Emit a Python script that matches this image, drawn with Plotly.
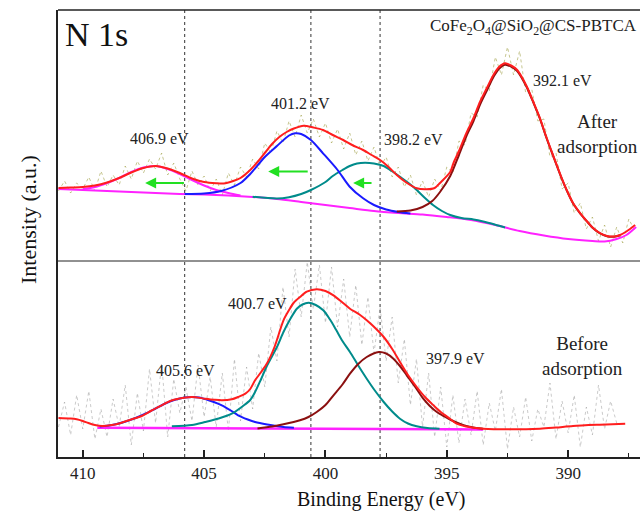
import plotly.graph_objects as go

FONT = "Liberation Serif, Times New Roman, serif"

# ---------------- Upper panel (after adsorption) ----------------
raw_u_E = [411.0 - 0.25 * i for i in range(96)]
raw_u = [70, 80, 68, 78, 72, 84, 70, 90, 74, 86, 76, 95, 82, 100, 88, 102, 92, 108, 86, 98,
         82, 70, 90, 76, 85, 70, 82, 66, 88, 76, 94, 84, 102, 92, 118, 108, 130, 118, 140, 124,
         146, 128, 142, 124, 138, 118, 132, 112, 128, 106, 120, 100, 114, 94, 104, 84, 94, 74, 86, 66,
         80, 64, 82, 70, 94, 88, 120, 116, 148, 144, 176, 170, 204, 186, 214, 186, 210, 168, 172, 140,
         142, 104, 108, 72, 78, 48, 58, 32, 44, 20, 36, 14, 34, 18, 42, 30]

base_u_E = [411, 410, 409, 408, 407, 406, 405, 404, 403, 402, 401, 400, 399, 398, 397, 396, 395,
            394, 393, 392, 391, 390, 389, 388.5, 388, 387.6, 387.2]
base_u = [72, 71, 70, 69, 68, 67, 66.5, 65.5, 64, 62, 59, 56, 53, 50, 48, 46.5, 44,
          41, 36, 30, 25.5, 22, 20, 19.5, 22, 26, 34]

c1_u_E = [410, 409.5, 409, 408.5, 408, 407.5, 407, 406.5, 406, 405.5, 405, 404.5, 404, 403.5]
c1_u = [72, 74, 78, 83, 89, 93.5, 95, 92, 87, 81, 75.5, 71, 68, 65.5]

c2_u_E = [405.8, 405, 404.3, 403.5, 403.1, 402.5, 402, 401.5, 401.25, 401, 400.6, 400.1, 399.5,
          399, 398.45, 398, 397.5, 397, 396.5]
c2_u = [67, 67.5, 70, 78, 87, 104, 115, 125.5, 127.7, 127, 121, 107.7, 91, 74.3, 62.7, 56, 51.5, 49, 47.5]

c3_u_E = [403, 402, 401.5, 401, 400.6, 400, 399.7, 399.3, 399, 398.7, 398.37, 398, 397.6, 397.3,
          396.93, 396.5, 396.24, 395.9, 395.57, 395.2, 394.86, 394.4, 393.9, 393.5, 393.0, 392.6]
c3_u = [64.3, 62.5, 63.8, 67, 71, 79, 85, 91, 95, 97.5, 98.3, 97.5, 95, 90.5,
        84.3, 76.5, 71, 63, 56, 50, 46, 43, 41.5, 39.5, 36.3, 33.5]

c4_u_E = [397.06, 396.5, 396.0, 395.6, 395.28, 394.86, 394.5, 394.2, 393.9, 393.63, 393.35, 393.08,
          392.85, 392.6, 392.35, 392.1, 391.9, 391.7, 391.45, 391.16, 390.9, 390.6, 390.3, 390.06,
          389.8, 389.5, 389.2, 388.96, 388.7, 388.4, 388.1, 387.86]
c4_u = [49.5, 50.5, 54, 60, 69, 85, 106, 124.5, 140, 156.5, 170.5, 184,
        192.3, 196.3, 194.3, 190, 182.6, 173.5, 159.3, 142, 123.5, 103.8, 84.6, 70.7,
        57.7, 47.4, 38.8, 32.5, 27.8, 24.8, 24.3, 25.8]

env_u_E = [411, 410.5, 410, 409.5, 409, 408.5, 408, 407.5, 407, 406.5, 406, 405.5, 405, 404.5, 404.2,
           403.8, 403.5, 403.1, 402.8, 402.5, 402.2, 401.9, 401.6, 401.3, 400.9, 400.5, 400.1, 399.7,
           399.27, 398.9, 398.45, 398.1, 397.75, 397.4, 397.06, 396.7, 396.24, 395.83, 395.5, 395.28,
           394.86, 394.73, 394.5, 394.2, 393.9, 393.63, 393.35, 393.08, 392.85, 392.6, 392.35, 392.1,
           391.9, 391.7, 391.45, 391.16, 390.9, 390.6, 390.3, 390.06, 389.8, 389.5, 389.2, 388.96,
           388.7, 388.4, 388.1, 387.86, 387.6, 387.24]
env_u = [73, 73.5, 74, 75.5, 78.5, 83, 88.5, 93, 95, 92.5, 88, 82.5, 79, 77.7, 77.5,
         80, 83, 91, 99, 108, 117, 124, 129, 132.5, 135.3, 133.5, 131, 126,
         121, 116, 111, 106, 101, 94, 86, 79, 72.7, 71.7, 73, 78,
         89, 97.7, 110, 127.7, 143, 159.3, 173, 186, 194, 197.7, 195.5, 191,
         183.5, 174.3, 160, 142.7, 124, 104.3, 85, 71, 58, 47.7, 39, 32.7,
         28, 25, 24.5, 26, 29.5, 36]

# ---------------- Lower panel (before adsorption) ----------------
raw_l_E = [411.0 - 0.25 * i for i in range(93)]
raw_l = [30, 55, 22, 62, 28, 66, 18, 48, 20, 58, 30, 72, 12, 64, 26, 88, 34, 94, 20, 78,
         44, 70, 36, 92, 40, 80, 30, 84, 26, 98, 36, 90, 48, 104, 70, 130, 96, 170, 120, 188,
         140, 195, 148, 192, 134, 190, 130, 178, 120, 172, 112, 160, 104, 150, 96, 140, 74, 118, 52, 98,
         30, 84, 20, 70, 10, 62, 14, 58, 22, 66, 12, 54, 26, 68, 8, 50, 20, 60, 16, 48,
         30, 74, 18, 56, 24, 62, 10, 50, 22, 72, 28, 56, 34]

base_l_E = [409.4, 405, 400, 395, 393.5]
base_l = [29.3, 28.8, 28.3, 27.8, 27.6]

c1_l_E = [409.3, 409.0, 408.6, 408.2, 407.8, 407.4, 407, 406.6, 406.2, 405.8, 405.5, 405.2, 404.9,
          404.6, 404.27, 403.9, 403.6, 403.2, 402.9, 402.4, 401.73, 401.3]
c1_l = [30.5, 31.2, 33, 35.8, 39.3, 43.6, 48.5, 53.5, 57.3, 59.5, 60, 59.5, 57.5,
        55, 51.7, 46.5, 41.7, 37.5, 35, 32.5, 30, 29.3]

c2_l_E = [406.33, 405.5, 404.96, 404.4, 403.86, 403.4, 403.1, 402.9, 402.65, 402.4, 402.0, 401.73,
          401.45, 401.18, 400.95, 400.7, 400.4, 400.09, 399.8, 399.55, 399.3, 398.99, 398.65, 398.3,
          397.95, 397.6, 397.25, 396.93, 396.6, 396.24, 395.8, 395.3]
c2_l = [30.7, 32, 35, 38.5, 43.3, 51, 57, 65, 78, 91.7, 110, 125,
        138, 148.3, 152.5, 154.3, 152, 146.7, 137, 126.7, 116, 105, 91.5, 78.3,
        66, 55, 45.5, 38.3, 33.5, 30.7, 29, 28.3]

c3_l_E = [402.8, 402.2, 401.73, 401.05, 400.7, 400.36, 400.0, 399.67, 399.3, 398.99, 398.65, 398.3,
          397.8, 397.5, 397.2, 396.9, 396.65, 396.3, 395.97, 395.7, 395.41, 395.1, 394.87, 394.5,
          394.2, 393.8, 393.5]
c3_l = [28.5, 30.5, 32.7, 36.7, 40, 45, 52, 61.7, 72.5, 83.3, 93, 100,
        105, 103.5, 98.3, 90, 81.7, 70, 58.3, 51, 45, 40.5, 37.5, 33.5,
        31, 29, 28.3]

env_l_E = [411, 410.5, 410.25, 410, 409.77, 409.5, 409.2, 408.8, 408.4, 408, 407.57, 407.2, 406.75,
           406.4, 406.06, 405.5, 404.96, 404.6, 404.27, 403.86, 403.6, 403.3, 403.1, 402.9, 402.65,
           402.4, 402.1, 401.73, 401.5, 401.3, 401.05, 400.77, 400.36, 400.0, 399.67, 399.3, 398.99,
           398.6, 398.3, 397.95, 397.6, 397.25, 396.93, 396.6, 396.24, 395.9, 395.55, 395.25, 394.87,
           394.6, 394.2, 393.9, 393.5, 392.5, 391.16, 390.5, 389.8, 388.7, 387.65]
env_l = [39, 38.5, 37.7, 36, 34, 32, 31, 32, 34.3, 37.5, 41, 46, 51.7,
         56, 58.3, 60, 58.3, 57.3, 56.7, 57.7, 60, 63.3, 68, 76.7, 85,
         94, 110, 136.7, 147, 154.5, 160, 165.3, 167.8, 166, 161.7, 154.5, 148.3,
         142.5, 136.7, 129, 120, 108, 95, 82, 70, 60, 51.7, 45, 38.3,
         33.3, 30.5, 29.3, 28.3, 27.7, 28.3, 29.5, 31, 32.3, 33.3]

# ---------------- labels ----------------
vlines_E = [405.8, 400.6, 397.75]
labels_u = [("406.9 eV", 406.82, 123), ("401.2 eV", 401.04, 158), ("398.2 eV", 396.39, 122),
            ("392.1 eV", 390.25, 181), ("After<br>adsorption", 388.8, 127)]
labels_l = [("405.6 eV", 405.78, 87), ("400.7 eV", 402.78, 154), ("397.9 eV", 394.66, 99),
            ("Before<br>adsorption", 389.4, 101)]
arrows_u = [(405.77, 407.43, 78), (400.67, 402.36, 89.5), (398.04, 398.86, 78)]

RED = "#ff1e1e"
BLUE = "#1a1aff"
TEAL = "#008b8b"
MAROON = "#8b1010"
MAG = "#ff22ff"

fig = go.Figure()

def add(x, y, color, width=2, dash=None, ax="u", shape="spline"):
    xa, ya = ("x2", "y2") if ax == "u" else ("x", "y")
    fig.add_trace(go.Scatter(x=x, y=y, mode="lines", xaxis=xa, yaxis=ya,
                             line=dict(color=color, width=width, dash=dash, shape=shape,
                                       smoothing=0.8 if shape == "spline" else None),
                             showlegend=False, hoverinfo="skip"))

# upper
add(raw_u_E, raw_u, "rgba(160,160,70,0.6)", 1, "dot", "u", "linear")
add(base_u_E, base_u, MAG, 2, None, "u")
add(c1_u_E, c1_u, MAG, 2, None, "u")
add(c3_u_E, c3_u, TEAL, 2, None, "u")
add(c2_u_E, c2_u, BLUE, 2, None, "u")
add(c4_u_E, c4_u, MAROON, 2, None, "u")
add(env_u_E, env_u, RED, 2, None, "u")
# lower
add(raw_l_E, raw_l, "rgba(150,150,150,0.5)", 1, "dot", "l", "linear")
add(base_l_E, base_l, MAG, 2.5, None, "l")
add(c1_l_E, c1_l, BLUE, 2, None, "l")
add(c2_l_E, c2_l, TEAL, 2, None, "l")
add(c3_l_E, c3_l, MAROON, 2, None, "l")
add(env_l_E, env_l, RED, 2, None, "l")

SPLIT = 196 / 447
XR = [411.02, 387.04]

shapes = []
for e in vlines_E:
    shapes.append(dict(type="line", xref="x", yref="paper", x0=e, x1=e, y0=0, y1=1,
                       line=dict(color="#333", width=1, dash="dot"), layer="below"))
shapes.append(dict(type="line", xref="paper", yref="paper", x0=0, x1=1, y0=SPLIT, y1=SPLIT,
                   line=dict(color="#222", width=1)))
shapes.append(dict(type="line", xref="paper", yref="paper", x0=0, x1=1, y0=1, y1=1,
                   line=dict(color="#222", width=1.5)))

ann = []
for t, x, y in labels_u:
    ann.append(dict(text=t, x=x, y=y, xref="x2", yref="y2", showarrow=False,
                    font=dict(family=FONT, size=19 if "adsorption" in t else 16, color="#222")))
for t, x, y in labels_l:
    ann.append(dict(text=t, x=x, y=y, xref="x", yref="y", showarrow=False,
                    font=dict(family=FONT, size=19 if "adsorption" in t else 16, color="#222")))
for tail, head, y in arrows_u:
    ann.append(dict(x=head, y=y, ax=tail, ay=y, xref="x2", yref="y2", axref="x2", ayref="y2",
                    text="", showarrow=True, arrowhead=2, arrowsize=1.1, arrowwidth=2,
                    arrowcolor="#22e022"))
ann.append(dict(text="N 1s", xref="paper", yref="paper", x=(63 - 58) / 582, y=(457 - 35) / 447,
                xanchor="left", yanchor="middle", showarrow=False,
                font=dict(family=FONT, size=34, color="#111")))
ann.append(dict(text="CoFe<sub>2</sub>O<sub>4</sub>@SiO<sub>2</sub>@CS-PBTCA", xref="paper",
                yref="paper", x=(639 - 58) / 582, y=(457 - 27) / 447, xanchor="right",
                yanchor="middle", showarrow=False, font=dict(family=FONT, size=17, color="#222")))
ann.append(dict(text="Binding Energy (eV)", xref="paper", yref="paper", x=(381 - 58) / 582,
                y=(457 - 499) / 447, xanchor="center", yanchor="middle", showarrow=False,
                font=dict(family=FONT, size=20, color="#111")))
ann.append(dict(text="Intensity (a.u.)", xref="paper", yref="paper", x=(28 - 58) / 582,
                y=(457 - 220) / 447, xanchor="center", yanchor="middle", showarrow=False,
                textangle=-90, font=dict(family=FONT, size=22, color="#111")))

fig.update_layout(
    width=640, height=512, margin=dict(l=58, r=0, t=10, b=55),
    font=dict(family=FONT, color="#222"),
    paper_bgcolor="white", plot_bgcolor="white", showlegend=False,
    xaxis=dict(range=XR, domain=[0, 1], anchor="y", showgrid=False, zeroline=False,
               showline=True, linecolor="#222", linewidth=1.5,
               ticks="inside", ticklen=7, tickwidth=1.5, tickcolor="#222",
               tick0=390, dtick=5,
               minor=dict(ticks="inside", ticklen=4, tickwidth=1.2, tickcolor="#222", dtick=2.5,
                          tick0=390, showgrid=False),
               tickfont=dict(family=FONT, size=17, color="#222")),
    xaxis2=dict(range=XR, domain=[0, 1], anchor="y2", matches="x", showgrid=False,
                zeroline=False, showline=False, showticklabels=False, ticks=""),
    yaxis=dict(range=[0, 196], domain=[0, SPLIT], showgrid=False, zeroline=False,
               showticklabels=False, ticks="", showline=True, linecolor="#222", linewidth=1.5),
    yaxis2=dict(range=[0, 251], domain=[SPLIT, 1], showgrid=False, zeroline=False,
                showticklabels=False, ticks="", showline=True, linecolor="#222", linewidth=1.5),
    shapes=shapes, annotations=ann,
)

fig.write_html("out.html")
